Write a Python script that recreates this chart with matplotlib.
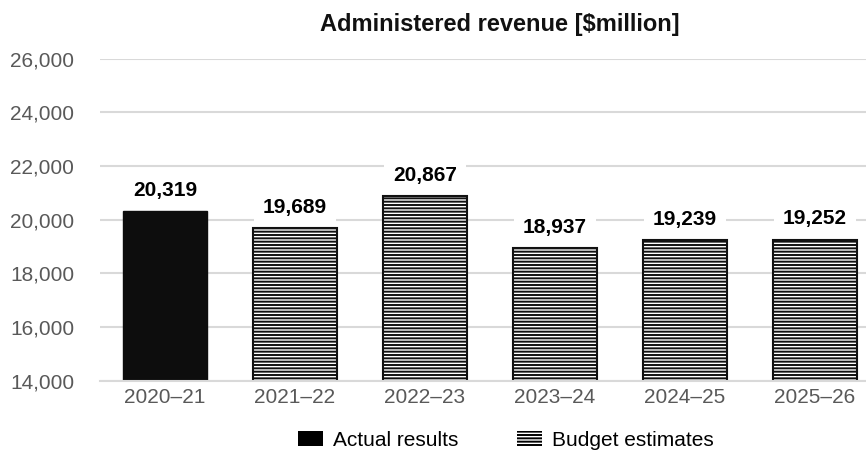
import numpy as np
import matplotlib
matplotlib.use('Agg')
from matplotlib import pyplot as plt
from matplotlib.patches import Patch
from matplotlib.ticker import FuncFormatter

# 各年度数据
years = ['2020–21', '2021–22', '2022–23', '2023–24', '2024–25', '2025–26']
revenue = [20319, 19689, 20867, 18937, 19239, 19252]
is_actual = [True, False, False, False, False, False]
y_ticks = [14000, 16000, 18000, 20000, 22000, 24000, 26000]

plt.rcParams['font.family'] = ['Liberation Sans', 'DejaVu Sans']
plt.rcParams['hatch.linewidth'] = 1.4

grid_c = '#d9d9d9'
text_c = '#595959'

fig = plt.figure(figsize=(8.66, 4.54), dpi=100)
# 绘图区右侧超出画布
ax = fig.add_axes([100 / 866, 73.3 / 454, 780 / 866, 322 / 454])

x = np.arange(len(years))
for i in range(len(years)):
    if is_actual[i]:
        ax.bar(x[i], revenue[i] - 14000, bottom=14000, width=0.64,
               color='#0d0d0d', edgecolor='#0d0d0d', zorder=3)
    else:
        ax.bar(x[i], revenue[i] - 14000, bottom=14000, width=0.64,
               facecolor='white', edgecolor='#111111', hatch='-----',
               linewidth=1.5, zorder=3)
    # 数据标签, 白底遮住网格线
    ax.annotate(f'{revenue[i]:,}', (x[i], revenue[i]), xytext=(0, 11),
                textcoords='offset points', ha='center', va='baseline',
                fontsize=15, fontweight='bold', color='black', zorder=4,
                bbox=dict(facecolor='white', edgecolor='none', pad=6.5))

ax.set_xlim(-0.5, len(years) - 0.5)
ax.set_ylim(14000, 26000)
ax.set_yticks(y_ticks)
ax.yaxis.set_major_formatter(FuncFormatter(lambda v, p: f'{int(v):,}'))
ax.set_xticks(x)
ax.set_xticklabels(years)
ax.tick_params(axis='both', length=0, labelsize=15, labelcolor=text_c)
ax.tick_params(axis='y', pad=18.5)
ax.tick_params(axis='x', pad=5)
ax.grid(axis='y', color=grid_c, linewidth=1.5, zorder=0)
for s in ['top', 'right', 'left']:
    ax.spines[s].set_visible(False)
ax.spines['bottom'].set_color(grid_c)
ax.spines['bottom'].set_linewidth(1.5)
ax.spines['bottom'].set_zorder(3.5)

fig.text(500 / 866, 1 - 25 / 454, 'Administered revenue [$million]',
         ha='center', va='center', fontsize=17, fontweight='bold', color='#111111')

handles = [Patch(facecolor='black', edgecolor='black', linewidth=0),
           Patch(facecolor='white', edgecolor='black', hatch='-----', linewidth=0)]
fig.legend(handles, ['Actual results', 'Budget estimates'], loc='center',
           bbox_to_anchor=(506 / 866, 1 - 440 / 454), ncol=2, frameon=False,
           fontsize=15, handlelength=1.2, handleheight=0.72, handletextpad=0.48,
           columnspacing=2.8, labelcolor='black')

plt.savefig('out.png', dpi=100)
